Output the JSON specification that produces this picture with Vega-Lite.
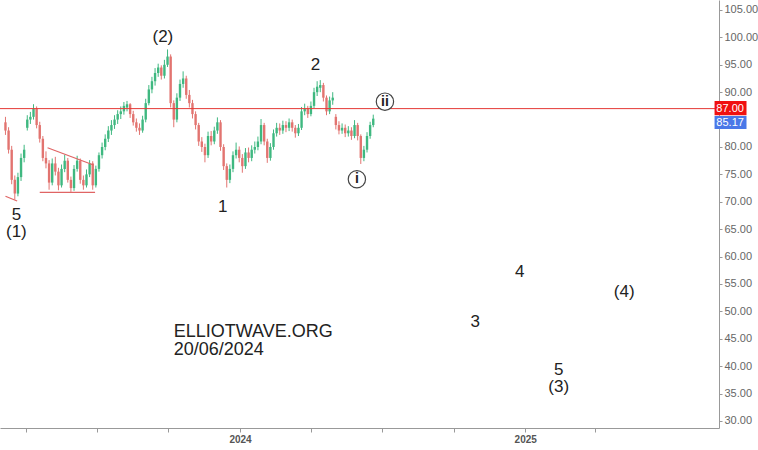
{
  "$schema": "https://vega.github.io/schema/vega-lite/v6.json",
  "width": 719,
  "height": 428,
  "autosize": {"type": "none"},
  "padding": {"left": 0, "top": 0, "right": 39, "bottom": 22},
  "background": "white",
  "config": {"view": {"stroke": null}, "font": "Liberation Sans"},
  "resolve": {"axis": {"x": "independent", "y": "independent"}},
  "datasets": {
    "candles": [
      {"d":"2023-03-06","o":84.5,"h":85.5,"l":82.2,"c":83},
      {"d":"2023-03-10","o":83,"h":83.6,"l":78.8,"c":79.5},
      {"d":"2023-03-14","o":79.5,"h":80.2,"l":73.2,"c":74},
      {"d":"2023-03-18","o":74,"h":74.8,"l":70.4,"c":71.5},
      {"d":"2023-03-22","o":71.5,"h":75.3,"l":71,"c":74.5},
      {"d":"2023-03-26","o":74.5,"h":78.8,"l":73.8,"c":78},
      {"d":"2023-03-30","o":78,"h":80.4,"l":77.2,"c":79.5},
      {"d":"2023-04-03","o":83.5,"h":85.8,"l":83,"c":85},
      {"d":"2023-04-07","o":85,"h":86.4,"l":84.2,"c":85.5},
      {"d":"2023-04-11","o":85.5,"h":87.8,"l":85,"c":87},
      {"d":"2023-04-15","o":87,"h":87.4,"l":83.4,"c":84},
      {"d":"2023-04-19","o":84,"h":84.6,"l":80.8,"c":81.5},
      {"d":"2023-04-23","o":81.5,"h":82,"l":77.4,"c":78},
      {"d":"2023-04-27","o":78,"h":79.2,"l":76.1,"c":77},
      {"d":"2023-05-01","o":77,"h":77.6,"l":72.2,"c":73.5},
      {"d":"2023-05-05","o":73.5,"h":77.9,"l":73,"c":77},
      {"d":"2023-05-09","o":77,"h":78.2,"l":74.8,"c":75.5},
      {"d":"2023-05-13","o":75.5,"h":76.2,"l":72.1,"c":73},
      {"d":"2023-05-17","o":73,"h":76.8,"l":72.6,"c":76},
      {"d":"2023-05-21","o":76,"h":78.6,"l":75.4,"c":77.5},
      {"d":"2023-05-25","o":77.5,"h":78,"l":73.5,"c":74},
      {"d":"2023-05-29","o":74,"h":74.6,"l":71.8,"c":72.5},
      {"d":"2023-06-02","o":72.5,"h":76.7,"l":72,"c":76},
      {"d":"2023-06-06","o":76,"h":78.4,"l":75.5,"c":77.5},
      {"d":"2023-06-10","o":77.5,"h":77.9,"l":73.3,"c":74},
      {"d":"2023-06-14","o":74,"h":74.8,"l":72.2,"c":73},
      {"d":"2023-06-18","o":73,"h":75.9,"l":72.6,"c":75},
      {"d":"2023-06-22","o":75,"h":77.6,"l":74.5,"c":77},
      {"d":"2023-06-26","o":77,"h":77.4,"l":72.2,"c":73},
      {"d":"2023-06-30","o":73,"h":76.6,"l":72.6,"c":76},
      {"d":"2023-07-04","o":76,"h":79,"l":75.5,"c":78.5},
      {"d":"2023-07-08","o":78.5,"h":80.8,"l":77.9,"c":80},
      {"d":"2023-07-12","o":80,"h":82.3,"l":79.4,"c":81.5},
      {"d":"2023-07-16","o":81.5,"h":83.8,"l":80.9,"c":83},
      {"d":"2023-07-20","o":83,"h":84.9,"l":82.2,"c":84},
      {"d":"2023-07-24","o":84,"h":85.8,"l":83.3,"c":85},
      {"d":"2023-07-28","o":85,"h":86.7,"l":84.2,"c":86},
      {"d":"2023-08-01","o":86,"h":87.4,"l":85.1,"c":86.5},
      {"d":"2023-08-05","o":86.5,"h":88.2,"l":85.9,"c":87.5},
      {"d":"2023-08-09","o":87.2,"h":88.4,"l":86.5,"c":87.8},
      {"d":"2023-08-13","o":87.8,"h":88,"l":85.3,"c":86},
      {"d":"2023-08-17","o":86,"h":86.6,"l":83.9,"c":84.5},
      {"d":"2023-08-21","o":84.5,"h":85.2,"l":82.8,"c":83.5},
      {"d":"2023-08-25","o":83.5,"h":84.3,"l":82.2,"c":83},
      {"d":"2023-08-29","o":83,"h":85.7,"l":82.6,"c":85},
      {"d":"2023-09-02","o":85,"h":88.8,"l":84.5,"c":88},
      {"d":"2023-09-06","o":88,"h":91.3,"l":87.6,"c":90.5},
      {"d":"2023-09-10","o":90.5,"h":92.8,"l":89.8,"c":92},
      {"d":"2023-09-14","o":92,"h":94.4,"l":91.2,"c":93.5},
      {"d":"2023-09-18","o":93.5,"h":95.2,"l":92.8,"c":94.5},
      {"d":"2023-09-22","o":94.5,"h":94.9,"l":92.3,"c":93},
      {"d":"2023-09-26","o":93,"h":95.9,"l":92.5,"c":95},
      {"d":"2023-09-30","o":95,"h":97.8,"l":94.6,"c":96.5},
      {"d":"2023-10-04","o":96.5,"h":96.9,"l":87.2,"c":88},
      {"d":"2023-10-08","o":88,"h":88.5,"l":83.6,"c":85},
      {"d":"2023-10-12","o":85,"h":89.8,"l":84.5,"c":89},
      {"d":"2023-10-16","o":89,"h":92.3,"l":88.4,"c":91.5},
      {"d":"2023-10-20","o":91.5,"h":93.8,"l":90.8,"c":92.5},
      {"d":"2023-10-24","o":92.5,"h":93,"l":88.8,"c":89.5},
      {"d":"2023-10-28","o":89.5,"h":90.4,"l":87.2,"c":88},
      {"d":"2023-11-01","o":88,"h":88.6,"l":85.2,"c":86},
      {"d":"2023-11-05","o":86,"h":86.5,"l":83.2,"c":84},
      {"d":"2023-11-09","o":84,"h":84.4,"l":80.2,"c":81},
      {"d":"2023-11-13","o":81,"h":81.8,"l":79.1,"c":80},
      {"d":"2023-11-17","o":80,"h":80.6,"l":77.2,"c":78.5},
      {"d":"2023-11-21","o":78.5,"h":82.8,"l":78,"c":82},
      {"d":"2023-11-25","o":82,"h":82.9,"l":80.3,"c":81},
      {"d":"2023-11-29","o":81,"h":83.7,"l":80.5,"c":83},
      {"d":"2023-12-03","o":83,"h":85.4,"l":82.4,"c":84.5},
      {"d":"2023-12-07","o":84.5,"h":84.9,"l":79.3,"c":80},
      {"d":"2023-12-11","o":80,"h":80.5,"l":75.8,"c":76.5},
      {"d":"2023-12-15","o":76.5,"h":77,"l":72.6,"c":74},
      {"d":"2023-12-19","o":74,"h":76.8,"l":73.4,"c":76},
      {"d":"2023-12-23","o":76,"h":79.2,"l":75.4,"c":78.5},
      {"d":"2023-12-27","o":78.5,"h":80.8,"l":77.9,"c":79.5},
      {"d":"2023-12-31","o":79.5,"h":80.1,"l":77.2,"c":78},
      {"d":"2024-01-04","o":78,"h":78.7,"l":75.3,"c":76.5},
      {"d":"2024-01-08","o":76.5,"h":79.8,"l":76,"c":79},
      {"d":"2024-01-12","o":79,"h":79.9,"l":77.2,"c":78},
      {"d":"2024-01-16","o":78,"h":80.3,"l":77.4,"c":79.5},
      {"d":"2024-01-20","o":79.5,"h":81,"l":78.8,"c":80},
      {"d":"2024-01-24","o":80,"h":81.9,"l":79.4,"c":81},
      {"d":"2024-01-28","o":81,"h":85.1,"l":80.5,"c":84},
      {"d":"2024-02-01","o":84,"h":84.4,"l":80.3,"c":81},
      {"d":"2024-02-05","o":81,"h":81.5,"l":77.1,"c":78},
      {"d":"2024-02-09","o":78,"h":80.7,"l":77.5,"c":80},
      {"d":"2024-02-13","o":80,"h":83.2,"l":79.5,"c":82.5},
      {"d":"2024-02-17","o":82.5,"h":84.4,"l":81.9,"c":83.5},
      {"d":"2024-02-21","o":83.5,"h":84.3,"l":82.2,"c":83},
      {"d":"2024-02-25","o":83,"h":84.8,"l":82.4,"c":84},
      {"d":"2024-02-29","o":84,"h":84.7,"l":82.7,"c":83.5},
      {"d":"2024-03-04","o":83.5,"h":85.2,"l":82.9,"c":84.5},
      {"d":"2024-03-08","o":84.5,"h":85,"l":82.8,"c":83.5},
      {"d":"2024-03-12","o":83.5,"h":84,"l":81.7,"c":82.5},
      {"d":"2024-03-16","o":82.5,"h":84.2,"l":82,"c":83.5},
      {"d":"2024-03-20","o":83.5,"h":87.3,"l":83.1,"c":86.5},
      {"d":"2024-03-24","o":86.5,"h":87.9,"l":85.8,"c":87},
      {"d":"2024-03-28","o":87,"h":87.5,"l":85.3,"c":86},
      {"d":"2024-04-01","o":86,"h":88.3,"l":85.6,"c":87.5},
      {"d":"2024-04-05","o":87.5,"h":90.8,"l":87.1,"c":90},
      {"d":"2024-04-09","o":90,"h":92,"l":89.3,"c":91},
      {"d":"2024-04-13","o":90.8,"h":92.2,"l":90,"c":91.3},
      {"d":"2024-04-17","o":91.3,"h":91.7,"l":88.3,"c":89},
      {"d":"2024-04-21","o":89,"h":89.4,"l":85.8,"c":86.5},
      {"d":"2024-04-25","o":86.5,"h":89.2,"l":86,"c":88.5},
      {"d":"2024-04-29","o":88.5,"h":90,"l":87.7,"c":89},
      {"d":"2024-05-03","o":85.5,"h":86,"l":83.2,"c":84},
      {"d":"2024-05-07","o":84,"h":84.7,"l":82.3,"c":83},
      {"d":"2024-05-11","o":83,"h":84.3,"l":82.4,"c":83.5},
      {"d":"2024-05-15","o":83.5,"h":84.1,"l":81.8,"c":82.5},
      {"d":"2024-05-19","o":82.5,"h":83.8,"l":81.9,"c":83},
      {"d":"2024-05-23","o":83,"h":83.6,"l":81.3,"c":82},
      {"d":"2024-05-27","o":82,"h":84.9,"l":81.6,"c":84},
      {"d":"2024-05-31","o":84,"h":84.4,"l":81.2,"c":82},
      {"d":"2024-06-04","o":82,"h":82.3,"l":76.9,"c":78},
      {"d":"2024-06-08","o":78,"h":80.2,"l":77.4,"c":79.5},
      {"d":"2024-06-12","o":79.5,"h":82.7,"l":79,"c":82},
      {"d":"2024-06-16","o":82,"h":84.6,"l":81.5,"c":84},
      {"d":"2024-06-20","o":84,"h":85.9,"l":83.6,"c":85.17}
    ],
    "trend": [
      {"g":"u","d":"2023-04-29","p":79.87},
      {"g":"u","d":"2023-06-27","p":76.7},
      {"g":"l","d":"2023-04-19","p":71.73},
      {"g":"l","d":"2023-06-29","p":71.73},
      {"g":"s","d":"2023-03-06","p":71.0},
      {"g":"s","d":"2023-03-21","p":70.15}
    ],
    "labels": [
      {"d":"2023-09-24","p":100.1,"t":"(2)"},
      {"d":"2024-04-07","p":95.0,"t":"2"},
      {"d":"2023-03-20","p":67.6,"t":"5\n(1)"},
      {"d":"2023-12-10","p":69.05,"t":"1"},
      {"d":"2024-10-29","p":48.1,"t":"3"},
      {"d":"2024-12-25","p":57.25,"t":"4"},
      {"d":"2025-02-13","p":39.3,"t":"5\n(3)"},
      {"d":"2025-05-08","p":53.6,"t":"(4)"}
    ],
    "circled": [
      {"d":"2024-05-30","p":74.1,"t":"i"},
      {"d":"2024-07-05","p":88.27,"t":"ii"}
    ],
    "notes": [
      {"d":"2023-10-08","p":45.27,"t":"ELLIOTWAVE.ORG\n20/06/2024"}
    ],
    "boxes": [
      {"x1":"2025-09-01","x2":"2025-10-12","xm":"2025-09-21","y1":85.8,"y2":88.4,"ym":87.0,"t":"87.00","k":"level"},
      {"x1":"2025-09-01","x2":"2025-10-12","xm":"2025-09-21","y1":83.3,"y2":85.65,"ym":84.45,"t":"85.17","k":"last"}
    ]
  },
  "layer": [
    {
      "data": {"name": "candles"},
      "mark": {"type": "rule", "strokeWidth": 1, "clip": true},
      "encoding": {
        "x": {
          "field": "d", "type": "temporal", "title": null,
          "scale": {"type": "utc", "domain": [{"year":2023,"month":3,"date":5,"hours":10,"utc":true},{"year":2025,"month":8,"date":31,"hours":7,"utc":true}]},
          "axis": {
            "orient": "bottom", "grid": false,
            "values": [
              {"year":2023,"month":4,"date":1,"utc":true},
              {"year":2023,"month":7,"date":1,"utc":true},
              {"year":2023,"month":10,"date":1,"utc":true},
              {"year":2024,"month":1,"date":1,"utc":true},
              {"year":2024,"month":4,"date":1,"utc":true},
              {"year":2024,"month":7,"date":1,"utc":true},
              {"year":2024,"month":10,"date":1,"utc":true},
              {"year":2025,"month":1,"date":1,"utc":true},
              {"year":2025,"month":4,"date":1,"utc":true}
            ],
            "labelExpr": "utcmonth(datum.value) == 0 ? utcFormat(datum.value, '%Y') : ''",
            "labelOverlap": false,
            "tickSize": 4, "tickColor": "#999", "domainColor": "#999",
            "labelFontWeight": "bold", "labelFontSize": 10, "labelColor": "#555",
            "labelPadding": 2, "labelFont": "Liberation Sans"
          }
        },
        "y": {
          "field": "l", "type": "quantitative", "title": null,
          "scale": {"domain": [28.72, 106.82], "nice": false, "zero": false},
          "axis": {
            "orient": "right", "grid": false,
            "values": [30,35,40,45,50,55,60,65,70,75,80,90,95,100,105],
            "labelOverlap": false,
            "format": ".2f", "tickSize": 3, "tickColor": "#999", "domainColor": "#999",
            "labelColor": "#666", "labelFontSize": 11, "labelPadding": 2, "labelFont": "Liberation Sans"
          }
        },
        "y2": {"field": "h"},
        "color": {"condition": {"test": "datum.c >= datum.o", "value": "#3fb880"}, "value": "#e27470"}
      }
    },
    {
      "data": {"name": "candles"},
      "mark": {"type": "bar", "size": 2.4, "clip": true},
      "encoding": {
        "x": {"field": "d", "type": "temporal", "title": null, "axis": null},
        "y": {"field": "o", "type": "quantitative", "title": null, "axis": null},
        "y2": {"field": "c"},
        "color": {"condition": {"test": "datum.c >= datum.o", "value": "#3fb880"}, "value": "#e27470"}
      }
    },
    {
      "data": {"name": "trend"},
      "mark": {"type": "line", "color": "#e06464", "strokeWidth": 1.2},
      "encoding": {
        "x": {"field": "d", "type": "temporal", "title": null, "axis": null},
        "y": {"field": "p", "type": "quantitative", "title": null, "axis": null},
        "detail": {"field": "g"}
      }
    },
    {
      "data": {"values": [{"v": 87}]},
      "mark": {"type": "rule", "color": "#e53935", "strokeWidth": 1},
      "encoding": {"y": {"field": "v", "type": "quantitative", "title": null, "axis": null}}
    },
    {
      "data": {"name": "labels"},
      "mark": {"type": "text", "fontSize": 17, "lineHeight": 17, "lineBreak": "\n", "color": "#222", "baseline": "middle", "align": "center", "font": "Liberation Sans"},
      "encoding": {
        "x": {"field": "d", "type": "temporal", "title": null, "axis": null},
        "y": {"field": "p", "type": "quantitative", "title": null, "axis": null},
        "text": {"field": "t"}
      }
    },
    {
      "data": {"name": "circled"},
      "mark": {"type": "point", "shape": "circle", "size": 300, "filled": false, "fill": "white", "fillOpacity": 1, "stroke": "#444", "strokeWidth": 1.2, "opacity": 1},
      "encoding": {
        "x": {"field": "d", "type": "temporal", "title": null, "axis": null},
        "y": {"field": "p", "type": "quantitative", "title": null, "axis": null}
      }
    },
    {
      "data": {"name": "circled"},
      "mark": {"type": "text", "fontSize": 14, "fontWeight": "bold", "color": "#222", "baseline": "middle", "align": "center", "font": "Liberation Sans"},
      "encoding": {
        "x": {"field": "d", "type": "temporal", "title": null, "axis": null},
        "y": {"field": "p", "type": "quantitative", "title": null, "axis": null},
        "text": {"field": "t"}
      }
    },
    {
      "data": {"name": "notes"},
      "mark": {"type": "text", "fontSize": 18, "lineHeight": 18, "lineBreak": "\n", "color": "#222", "baseline": "alphabetic", "align": "left", "font": "Liberation Sans"},
      "encoding": {
        "x": {"field": "d", "type": "temporal", "title": null, "axis": null},
        "y": {"field": "p", "type": "quantitative", "title": null, "axis": null},
        "text": {"field": "t"}
      }
    },
    {
      "data": {"name": "boxes"},
      "mark": {"type": "rect"},
      "encoding": {
        "x": {"field": "x1", "type": "temporal", "title": null, "axis": null},
        "x2": {"field": "x2"},
        "y": {"field": "y1", "type": "quantitative", "title": null, "axis": null},
        "y2": {"field": "y2"},
        "color": {"field": "k", "type": "nominal", "legend": null, "scale": {"domain": ["level", "last"], "range": ["#f01010", "#4a78e8"]}}
      }
    },
    {
      "data": {"name": "boxes"},
      "mark": {"type": "text", "fontSize": 11, "color": "white", "baseline": "middle", "align": "center", "font": "Liberation Sans"},
      "encoding": {
        "x": {"field": "xm", "type": "temporal", "title": null, "axis": null},
        "y": {"field": "ym", "type": "quantitative", "title": null, "axis": null},
        "text": {"field": "t"}
      }
    }
  ]
}
